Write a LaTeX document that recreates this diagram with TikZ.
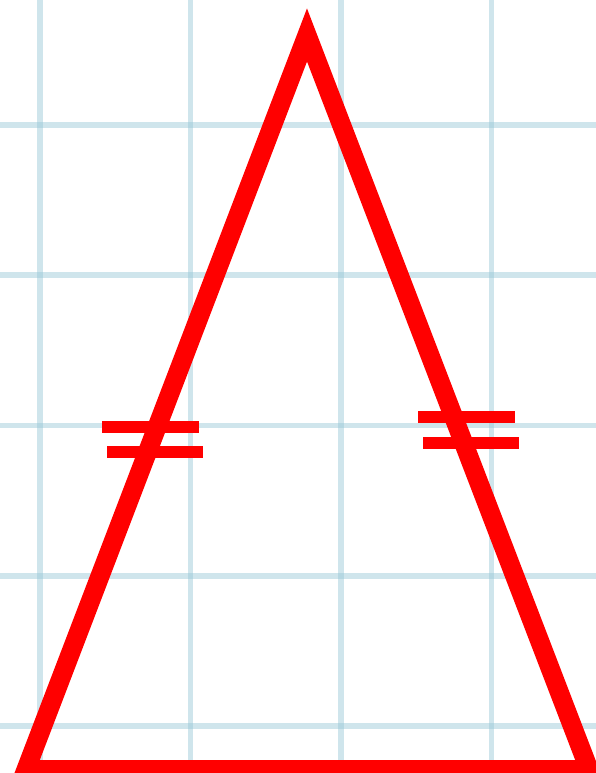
\documentclass[tikz,border=0pt]{standalone}
\begin{document}
\begin{tikzpicture}[x=1pt,y=-1pt,
  gridline/.style={draw={rgb,255:red,150;green,198;blue,214},line width=5.5pt,opacity=0.45},
  sideline/.style={draw={rgb,255:red,255;green,0;blue,0},line width=19pt,line join=miter,miter limit=10},
  tickbar/.style={draw={rgb,255:red,255;green,0;blue,0},line width=12pt}]
\useasboundingbox (0,0) rectangle (596,773);
\fill[white] (0,0) rectangle (596,773);
\begin{scope}
\clip (0,0) rectangle (596,773);
% grid
\foreach \gx in {40,190.5,341,491.5} \draw[gridline] (\gx,0) -- (\gx,773);
\foreach \gy in {125,275,425.5,576,726} \draw[gridline] (0,\gy) -- (596,\gy);
% triangle
\coordinate (A) at (307,35);
\coordinate (B) at (26,769.5);
\coordinate (C) at (589,769.5);
\draw[sideline] (A) -- (B) -- (C) -- cycle;
% equal-length ticks
\coordinate (L1a) at (102,427); \coordinate (L1b) at (199,427);
\coordinate (L2a) at (107,452); \coordinate (L2b) at (203,452);
\coordinate (R1a) at (418,417); \coordinate (R1b) at (515,417);
\coordinate (R2a) at (423,442.5); \coordinate (R2b) at (519,442.5);
\draw[tickbar] (L1a) -- (L1b);
\draw[tickbar] (L2a) -- (L2b);
\draw[tickbar] (R1a) -- (R1b);
\draw[tickbar] (R2a) -- (R2b);
\end{scope}
\end{tikzpicture}
\end{document}
